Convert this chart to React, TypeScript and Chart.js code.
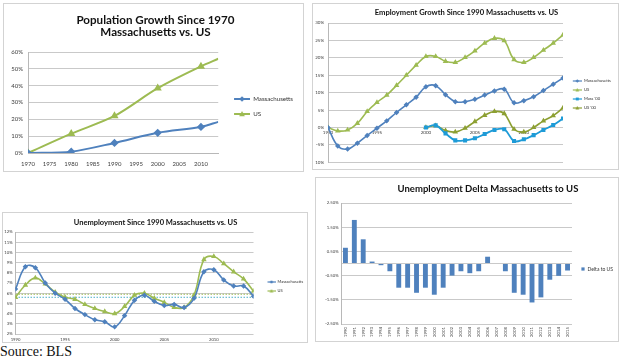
import React, { useEffect, useRef } from "react";
import { Chart, registerables } from "chart.js";
Chart.register(...registerables);

const FONT = "Lato, 'Liberation Sans', sans-serif";

// ---------- Chart 1: Population growth (percent) ----------
const popYears = [1970, 1980, 1990, 2000, 2010, 2014];
const popMass = [0, 0.8, 6.0, 12.0, 15.5, 18.5];
const popUS = [0, 11.5, 22.0, 38.5, 51.5, 56.0];
const popSeriesNames = ["Massachusetts", "US"];

// ---------- Chart 2: Employment growth since 1990 (percent) ----------
const empYears = [1990, 1991, 1992, 1993, 1994, 1995, 1996, 1997, 1998, 1999, 2000, 2001, 2002, 2003, 2004, 2005, 2006, 2007, 2008, 2009, 2010, 2011, 2012, 2013, 2014];
const empMass = [0, -5.3, -6.2, -4.5, -2.3, -0.2, 1.9, 4.3, 6.5, 8.7, 11.7, 12.0, 9.4, 7.4, 7.4, 8.1, 9.3, 10.5, 11.0, 7.1, 7.7, 8.8, 10.6, 12.4, 14.2];
const empUS = [0, -1.0, -0.7, 1.2, 4.6, 7.2, 9.3, 12.1, 15.0, 17.9, 20.4, 20.4, 19.0, 18.7, 20.1, 22.0, 24.2, 25.6, 24.9, 19.5, 18.7, 20.1, 22.2, 24.2, 26.6];
const emp00Years = [2000, 2001, 2002, 2003, 2004, 2005, 2006, 2007, 2008, 2009, 2010, 2011, 2012, 2013, 2014];
const empMass00 = [0, 0.6, -1.7, -3.7, -3.7, -3.1, -1.9, -0.7, -0.5, -3.9, -3.4, -2.2, -0.7, 0.7, 2.6];
const empUS00 = [0, 0.5, -0.9, -1.3, -0.2, 1.7, 3.5, 4.6, 4.0, -0.5, -1.3, 0, 1.9, 3.4, 5.6];
const empSeriesNames = ["Massachusetts", "US", "Mass '00", "US '00"];

// ---------- Chart 3: Unemployment since 1990 (percent) ----------
const unYears = [1990, 1991, 1992, 1993, 1994, 1995, 1996, 1997, 1998, 1999, 2000, 2001, 2002, 2003, 2004, 2005, 2006, 2007, 2008, 2009, 2010, 2011, 2012, 2013, 2014];
const unMass = [6.4, 8.6, 8.5, 7.0, 6.0, 5.4, 4.5, 3.9, 3.4, 3.2, 2.7, 3.8, 5.3, 5.8, 5.2, 4.8, 4.9, 4.6, 5.5, 8.1, 8.3, 7.3, 6.7, 6.7, 5.7];
const unUS = [5.6, 6.8, 7.5, 6.9, 6.1, 5.6, 5.4, 4.9, 4.5, 4.2, 4.0, 4.7, 5.8, 6.0, 5.5, 5.1, 4.6, 4.6, 5.8, 9.3, 9.6, 8.9, 8.1, 7.4, 6.2];
const unAvgMass = 5.6;
const unAvgUS = 5.9;
const unAvgSpan = [1990, 2014];
const unSeriesNames = ["Massachusetts", "US"];

// ---------- Chart 4: Unemployment delta (percentage points) ----------
const deltaYears = ["1990", "1991", "1992", "1993", "1994", "1995", "1996", "1997", "1998", "1999", "2000", "2001", "2002", "2003", "2004", "2005", "2006", "2007", "2008", "2009", "2010", "2011", "2012", "2013", "2014", "2015"];
const deltaVals = [0.65, 1.8, 1.0, 0.08, -0.07, -0.32, -1.0, -1.0, -1.21, -1.0, -1.29, -1.0, -0.5, -0.32, -0.4, -0.32, 0.28, 0, -0.32, -1.21, -1.29, -1.61, -1.4, -0.67, -0.51, -0.29];
const deltaTicks = [-2.5, -1.5, -0.5, 0, 0.5, 1.5, 2.5];
const deltaSeriesName = "Delta to US";

const BLUE = "#4F81BD";
const GREEN = "#9DBB52";
const MASS00 = "#1E9BD7";
const US00 = "#8C9F32";
const TEAL = "#4BACC6";
const GRID = "#c9c9c9";
const TICK = "#404040";

function drawMarker(ctx: CanvasRenderingContext2D, shape: string, cx: number, cy: number, r: number) {
  ctx.beginPath();
  if (shape === "rectRot") {
    ctx.moveTo(cx, cy - r);
    ctx.lineTo(cx + r, cy);
    ctx.lineTo(cx, cy + r);
    ctx.lineTo(cx - r, cy);
  } else if (shape === "triangle") {
    ctx.moveTo(cx, cy - r);
    ctx.lineTo(cx + r * 0.95, cy + r * 0.75);
    ctx.lineTo(cx - r * 0.95, cy + r * 0.75);
  } else {
    ctx.rect(cx - r * 0.8, cy - r * 0.8, r * 1.6, r * 1.6);
  }
  ctx.closePath();
  ctx.fill();
}

function makeIcon(color: string, shape: string, width: number, lead: number, r: number, lw: number, withLine = true) {
  const c = document.createElement("canvas");
  const h = 10;
  c.width = width;
  c.height = h;
  const ctx = c.getContext("2d")!;
  ctx.strokeStyle = color;
  ctx.fillStyle = color;
  ctx.lineWidth = lw;
  const cy = h / 2;
  if (withLine) {
    ctx.beginPath();
    ctx.moveTo(lead, cy);
    ctx.lineTo(width, cy);
    ctx.stroke();
    drawMarker(ctx, shape, (lead + width) / 2, cy, r);
  } else {
    drawMarker(ctx, shape, width - r, cy, r);
  }
  return c;
}

function iconLabels(icons: HTMLCanvasElement[], count: number) {
  return (chart: any) => {
    const items = (Chart.defaults as any).plugins.legend.labels.generateLabels(chart);
    return items.slice(0, count).map((it: any, i: number) => ({ ...it, pointStyle: icons[i], textAlign: "left" }));
  };
}

// invisible legend title used only as a vertical spacer above the legend items
const spacer = (pad: number) => ({ display: true, text: "", font: { family: FONT, size: 1, lineHeight: 1 }, padding: { top: pad, bottom: 0 } });

const pts = (xs: number[], ys: number[]) => xs.map((x, i) => ({ x, y: ys[i] }));
const f = (size: number, weight: any = "normal") => ({ family: FONT, size, weight, lineHeight: 1.2 });
const fixW = (w: number) => (s: any) => { s.width = w; };
const fixH = (h: number) => (s: any) => { s.height = h; };

function config1(): any {
  const icons = [makeIcon(BLUE, "rectRot", 23, 7, 2.8, 2), makeIcon(GREEN, "triangle", 23, 7, 3, 2)];
  const radius = popYears.map((_, i) => (i === popYears.length - 1 ? 0 : 2.7));
  return {
    type: "line",
    data: {
      datasets: [
        { label: popSeriesNames[0], data: pts(popYears, popMass), borderColor: BLUE, backgroundColor: BLUE, pointStyle: "rectRot", pointRadius: radius, borderWidth: 2, tension: 0.3 },
        { label: popSeriesNames[1], data: pts(popYears, popUS), borderColor: GREEN, backgroundColor: GREEN, pointStyle: "triangle", pointRadius: radius, borderWidth: 2, tension: 0.3 },
      ],
    },
    options: {
      responsive: false,
      animation: false,
      layout: { padding: { left: 4, right: 0, top: 0, bottom: 0 } },
      plugins: {
        title: { display: true, text: ["Population Growth Since 1970", "Massachusetts vs. US"], color: "#111", font: { family: FONT, size: 11.6, weight: "bold", lineHeight: 1.1 }, padding: { top: 9.6, bottom: 12.9 } },
        legend: { position: "right", align: "start", maxWidth: 86, title: spacer(82.1), labels: { usePointStyle: true, pointStyleWidth: 23, padding: 8.8, color: "#333", textAlign: "left", font: f(6.2), generateLabels: iconLabels(icons, 2) } },
        tooltip: { enabled: false },
      },
      scales: {
        x: { type: "linear", min: 1970, max: 2014, afterFit: fixH(18), ticks: { stepSize: 5, includeBounds: false, autoSkip: false, maxRotation: 0, padding: 7, color: TICK, font: f(6), callback: (v: any) => String(v) }, grid: { display: false, drawTicks: false }, border: { display: true, color: "#b8b8b8" } },
        y: { min: 0, max: 60, afterFit: fixW(20), ticks: { stepSize: 10, padding: 5, color: TICK, font: f(6), callback: (v: any) => v + "%" }, grid: { color: GRID, drawTicks: false }, border: { display: true, color: "#b8b8b8" } },
      },
    },
  };
}

function config2(): any {
  const icons = [
    makeIcon(BLUE, "rectRot", 14, 5, 1.8, 1.2),
    makeIcon(GREEN, "triangle", 14, 5, 2, 1.2),
    makeIcon(MASS00, "rect", 14, 5, 1.8, 1.2),
    makeIcon(US00, "triangle", 14, 5, 2, 1.2),
  ];
  const base = { borderWidth: 1.6, tension: 0.4, pointRadius: 1.6 };
  return {
    type: "line",
    data: {
      datasets: [
        { ...base, label: empSeriesNames[0], data: pts(empYears, empMass), borderColor: BLUE, backgroundColor: BLUE, pointStyle: "rectRot" },
        { ...base, label: empSeriesNames[1], data: pts(empYears, empUS), borderColor: GREEN, backgroundColor: GREEN, pointStyle: "triangle" },
        { ...base, label: empSeriesNames[2], data: pts(emp00Years, empMass00), borderColor: MASS00, backgroundColor: MASS00, pointStyle: "rect", borderWidth: 1.8 },
        { ...base, label: empSeriesNames[3], data: pts(emp00Years, empUS00), borderColor: US00, backgroundColor: US00, pointStyle: "triangle" },
      ],
    },
    options: {
      responsive: false,
      animation: false,
      layout: { padding: { left: 2, right: 0, top: 0, bottom: 4 } },
      plugins: {
        title: { display: true, text: "Employment Growth Since 1990 Massachusetts vs. US", color: "#111", font: { family: FONT, size: 7.6, weight: "bold", lineHeight: 1 }, padding: { top: 5.2, bottom: 6.2 } },
        legend: { position: "right", align: "start", maxWidth: 55, title: spacer(69.1), labels: { usePointStyle: true, pointStyleWidth: 14, padding: 4.8, color: "#333", textAlign: "left", font: f(4.2), generateLabels: iconLabels(icons, 4) } },
        tooltip: { enabled: false },
      },
      scales: {
        x: { type: "linear", min: 1990, max: 2014, position: { y: 0 }, afterFit: fixH(0), ticks: { stepSize: 5, includeBounds: false, autoSkip: false, maxRotation: 0, padding: 2, color: TICK, font: f(4.5), callback: (v: any) => String(v) }, grid: { display: false, drawTicks: false }, border: { display: false } },
        y: { min: -10, max: 30, afterFit: fixW(13), ticks: { stepSize: 5, padding: 4, color: TICK, font: f(4.5), callback: (v: any) => v + "%" }, grid: { color: GRID, drawTicks: false }, border: { display: true, color: "#b8b8b8" } },
      },
    },
  };
}

function config3(): any {
  const icons = [makeIcon(BLUE, "rectRot", 17, 9, 1.8, 1.2), makeIcon(GREEN, "triangle", 17, 9, 2, 1.2)];
  const base = { borderWidth: 1.6, tension: 0.4, pointRadius: 1.6 };
  return {
    type: "line",
    data: {
      datasets: [
        { ...base, label: unSeriesNames[0], data: pts(unYears, unMass), borderColor: BLUE, backgroundColor: BLUE, pointStyle: "rectRot" },
        { ...base, label: unSeriesNames[1], data: pts(unYears, unUS), borderColor: GREEN, backgroundColor: GREEN, pointStyle: "triangle" },
        { label: "Massachusetts average", data: pts(unAvgSpan, [unAvgMass, unAvgMass]), borderColor: TEAL, borderWidth: 1, borderDash: [1.5, 1.5], pointRadius: 0 },
        { label: "US average", data: pts(unAvgSpan, [unAvgUS, unAvgUS]), borderColor: GREEN, borderWidth: 1, borderDash: [1.5, 1.5], pointRadius: 0 },
      ],
    },
    options: {
      responsive: false,
      animation: false,
      layout: { padding: { left: 1, right: 0, top: 0, bottom: 0 } },
      plugins: {
        title: { display: true, text: "Unemployment Since 1990 Massachusetts vs. US", color: "#111", font: { family: FONT, size: 7.5, weight: "bold", lineHeight: 1 }, padding: { top: 6.2, bottom: 5.3 } },
        legend: { position: "right", align: "start", maxWidth: 53.5, title: spacer(61), labels: { usePointStyle: true, pointStyleWidth: 17, padding: 5, color: "#333", textAlign: "left", font: f(4.0), generateLabels: iconLabels(icons, 2) } },
        tooltip: { enabled: false },
      },
      scales: {
        x: { type: "linear", min: 1990, max: 2014, afterFit: fixH(8), ticks: { stepSize: 5, includeBounds: false, autoSkip: false, maxRotation: 0, padding: 3, color: TICK, font: f(4.2), callback: (v: any) => String(v) }, grid: { display: false, drawTicks: false }, border: { display: false } },
        y: { min: 2, max: 12, afterFit: fixW(11.5), ticks: { stepSize: 1, padding: 3, color: TICK, font: f(4.2), callback: (v: any) => v + "%" }, grid: { color: GRID, drawTicks: false }, border: { display: true, color: "#b8b8b8" } },
      },
    },
  };
}

function config4(): any {
  const icons = [makeIcon(BLUE, "rect", 9, 0, 2, 1, false)];
  return {
    type: "bar",
    data: {
      labels: deltaYears,
      datasets: [{ label: deltaSeriesName, data: deltaVals, backgroundColor: BLUE, categoryPercentage: 1, barPercentage: 0.55 }],
    },
    options: {
      responsive: false,
      animation: false,
      layout: { padding: { left: 0, right: 0, top: 25, bottom: 0 } },
      plugins: {
        title: { display: false },
        legend: { position: "right", align: "start", maxWidth: 46, title: spacer(58.5), labels: { usePointStyle: true, pointStyleWidth: 9, padding: 4, color: "#333", textAlign: "left", font: f(5), generateLabels: iconLabels(icons, 1) } },
        tooltip: { enabled: false },
      },
      scales: {
        x: { afterFit: fixH(17), ticks: { autoSkip: false, minRotation: 90, maxRotation: 90, padding: 3, color: TICK, font: f(4.3) }, grid: { display: false, drawTicks: false }, border: { display: false } },
        y: {
          min: -2.5,
          max: 2.5,
          afterFit: fixW(25),
          afterBuildTicks: (s: any) => { s.ticks = deltaTicks.map((v) => ({ value: v })); },
          ticks: { padding: 2.5, color: TICK, font: f(4.2), callback: (v: any) => (v === 0 ? "" : Number(v).toFixed(2) + "%") },
          grid: { color: GRID, drawTicks: false },
          border: { display: true, color: "#b8b8b8" },
        },
      },
    },
  };
}

type PanelProps = { x: number; y: number; w: number; h: number; make: () => any; children?: any };

function Panel({ x, y, w, h, make, children }: PanelProps) {
  const ref = useRef<HTMLCanvasElement | null>(null);
  useEffect(() => {
    const chart = new Chart(ref.current!, make());
    return () => chart.destroy();
  }, []);
  const iw = w - 2;
  const ih = h - 2;
  return (
    <div style={{ position: "absolute", left: x, top: y, width: w, height: h, boxSizing: "border-box", border: "1px solid #d3d3d3", overflow: "hidden", background: "#fff" }}>
      <canvas ref={ref} width={iw} height={ih} style={{ display: "block", width: iw, height: ih }} />
      {children}
    </div>
  );
}

export default function App() {
  return (
    <div style={{ position: "absolute", left: 0, top: 0, width: 621, height: 361, overflow: "hidden", background: "#fff" }}>
      <Panel x={3} y={3} w={301} h={169} make={config1} />
      <Panel x={312} y={3} w={307} h={167} make={config2} />
      <Panel x={2} y={212} w={306} h={131} make={config3} />
      <Panel x={315} y={177} w={304} h={165} make={config4}>
        <div style={{ position: "absolute", left: 22, top: 5, width: 300, textAlign: "center", fontFamily: FONT, fontWeight: 700, fontSize: 9.5, lineHeight: "12px", color: "#111", whiteSpace: "nowrap" }}>
          Unemployment Delta Massachusetts to US
        </div>
      </Panel>
      <div style={{ position: "absolute", left: 0, top: 344, fontFamily: "'Liberation Serif', 'Times New Roman', serif", fontSize: 14, lineHeight: "16px", color: "#111" }}>Source: BLS</div>
    </div>
  );
}
